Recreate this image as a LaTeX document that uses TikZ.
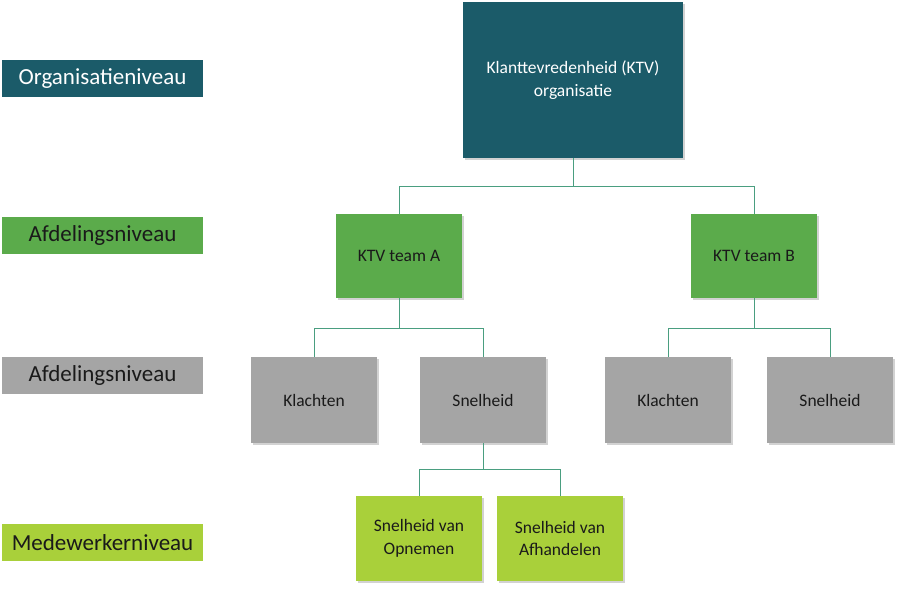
\documentclass[tikz,border=0pt]{standalone}
\usepackage{fontspec}
\setmainfont{Carlito}
\usetikzlibrary{positioning,shadows}
\definecolor{petrol}{HTML}{1B5B69}
\definecolor{leaf}{HTML}{5BAB4B}
\definecolor{stone}{HTML}{A5A5A5}
\definecolor{lime}{HTML}{A9D03A}
\definecolor{wire}{HTML}{4A9E80}
\definecolor{ink}{HTML}{1A1A1A}

\begin{document}
\begin{tikzpicture}[x=1pt,y=-1pt,
  box/.style={inner sep=2pt,align=center,text=ink,font=\fontsize{17.5}{22.5}\selectfont,
    drop shadow={opacity=0.35,shadow xshift=1.5pt,shadow yshift=-2pt}},
  level/.style={minimum width=201pt,minimum height=37pt,inner sep=0pt,text=ink,font=\fontsize{23}{27}\selectfont},
  unit/.style={box,minimum width=126pt,minimum height=85pt},
  conn/.style={draw=wire,line width=1pt}]
\useasboundingbox[fill=white] (0,0) rectangle (900,600);
% niveaus links
\node[level,fill=petrol,text=white] (lvlorg) at (102.5,78.5) {Organisatieniveau};
\node[level,fill=leaf] (lvlafd) at (102.5,235) {Afdelingsniveau};
\node[level,fill=stone] (lvlsub) at (102.5,375) {Afdelingsniveau};
\node[level,fill=lime] (lvlmdw) at (102.5,542.5) {Medewerkerniveau};
% organigram
\node[box,fill=petrol,text=white,minimum width=220pt,minimum height=156pt] (ktv) at (573,80) {Klanttevredenheid (KTV)\\organisatie};
\node[unit,fill=leaf,minimum height=84pt] (teama) at (399,256) {KTV team A};
\node[unit,fill=leaf,minimum height=84pt] (teamb) at (754,256) {KTV team B};
\node[unit,fill=stone,minimum height=86pt] (klachta) at (314,400) {Klachten};
\node[unit,fill=stone,minimum height=86pt] (snela) at (483,400) {Snelheid};
\node[unit,fill=stone,minimum height=86pt] (klachtb) at (668,400) {Klachten};
\node[unit,fill=stone,minimum height=86pt] (snelb) at (830,400) {Snelheid};
\node[unit,fill=lime] (opnemen) at (419,538.5) {Snelheid van\\Opnemen};
\node[unit,fill=lime] (afhandel) at (560,538.5) {Snelheid van\\Afhandelen};
\coordinate (bus1) at (0,186);
\coordinate (bus2) at (0,328);
\coordinate (bus3) at (0,469);
\draw[conn] (ktv.south) -- (ktv.south |- bus1) -| (teama.north);
\draw[conn] (ktv.south |- bus1) -| (teamb.north);
\draw[conn] (teama.south) -- (teama.south |- bus2) -| (klachta.north);
\draw[conn] (teama.south |- bus2) -| (snela.north);
\draw[conn] (teamb.south) -- (teamb.south |- bus2) -| (klachtb.north);
\draw[conn] (teamb.south |- bus2) -| (snelb.north);
\draw[conn] (snela.south) -- (snela.south |- bus3) -| (opnemen.north);
\draw[conn] (snela.south |- bus3) -| (afhandel.north);
\end{tikzpicture}
\end{document}
